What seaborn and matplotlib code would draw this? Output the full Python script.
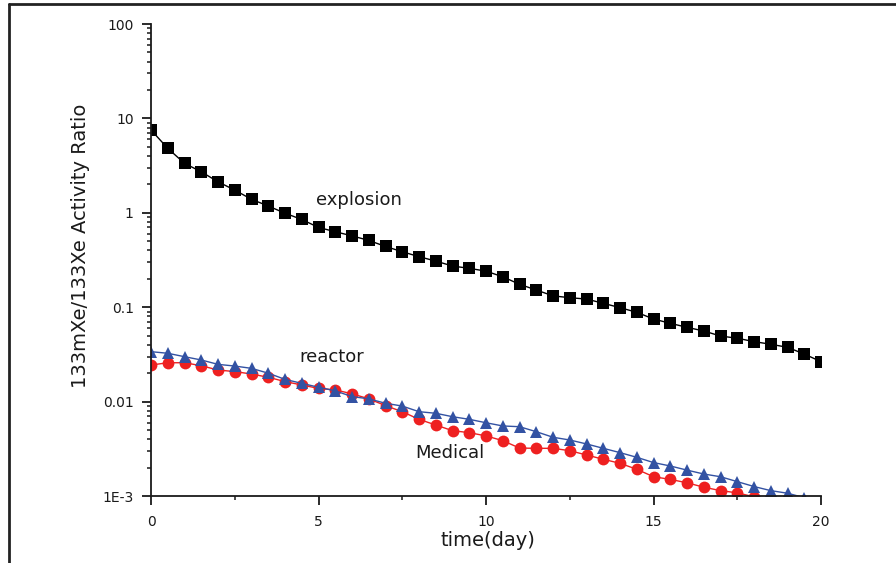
import matplotlib
matplotlib.use("Agg")
import matplotlib.pyplot as plt
from matplotlib.lines import Line2D
from matplotlib.ticker import FixedLocator, MultipleLocator, LogLocator, NullFormatter
import numpy as np
import pandas as pd
import seaborn as sns

# ---- data ----
time_explosion = [0, 0.5, 1, 1.5, 2, 2.5, 3, 3.5, 4, 4.5, 5, 5.5, 6, 6.5, 7, 7.5, 8, 8.5, 9, 9.5,
                  10, 10.5, 11, 11.5, 12, 12.5, 13, 13.5, 14, 14.5, 15, 15.5, 16, 16.5, 17, 17.5,
                  18, 18.5, 19, 19.5, 20]
explosion = [7.54, 4.82, 3.34, 2.72, 2.13, 1.74, 1.39, 1.18, 0.99, 0.85, 0.70, 0.63, 0.57, 0.51, 0.44,
             0.387, 0.343, 0.308, 0.273, 0.258, 0.241, 0.210, 0.175, 0.152, 0.132, 0.126, 0.122,
             0.110, 0.0989, 0.0883, 0.0750, 0.0675, 0.0612, 0.0560, 0.0495, 0.0469, 0.0432,
             0.0405, 0.0376, 0.0319, 0.0265]

time_reactor = [0, 0.5, 1, 1.5, 2, 2.5, 3, 3.5, 4, 4.5, 5, 5.5, 6, 6.5, 7, 7.5, 8, 8.5, 9, 9.5,
                10, 10.5, 11, 11.5, 12, 12.5, 13, 13.5, 14, 14.5, 15, 15.5, 16, 16.5, 17, 17.5,
                18, 18.5, 19, 19.5]
reactor = [0.0338, 0.0325, 0.0299, 0.0276, 0.0248, 0.0238, 0.0225, 0.0200, 0.0172, 0.0156, 0.0142,
           0.0130, 0.0113, 0.0107, 0.0096, 0.00897, 0.00782, 0.00752, 0.00692, 0.00649, 0.00597,
           0.00552, 0.00542, 0.00480, 0.00419, 0.00392, 0.00356, 0.00320, 0.00288, 0.00257,
           0.00226, 0.00208, 0.00188, 0.00171, 0.00160, 0.00142, 0.00126, 0.00114, 0.00107,
           0.00096]

time_medical = [0, 0.5, 1, 1.5, 2, 2.5, 3, 3.5, 4, 4.5, 5, 5.5, 6, 6.5, 7, 7.5, 8, 8.5, 9, 9.5,
                10, 10.5, 11, 11.5, 12, 12.5, 13, 13.5, 14, 14.5, 15, 15.5, 16, 16.5, 17, 17.5, 18]
medical = [0.0244, 0.0258, 0.0258, 0.0240, 0.0216, 0.0208, 0.0196, 0.0181, 0.0163, 0.0150, 0.0138,
           0.0133, 0.0121, 0.0107, 0.00906, 0.00782, 0.00649, 0.00565, 0.00492, 0.00469, 0.00433,
           0.00386, 0.00322, 0.00320, 0.00320, 0.00302, 0.00272, 0.00245, 0.00222, 0.00192,
           0.00160, 0.00150, 0.00138, 0.00124, 0.00114, 0.00108, 0.00098]

y_ticks = [1e-3, 1e-2, 1e-1, 1, 10, 100]
y_ticklabels = ["1E-3", "0.01", "0.1", "1", "10", "100"]
x_ticks = [0, 5, 10, 15, 20]
x_ticklabels = ["0", "5", "10", "15", "20"]

# ---- styling ----
sns.set_style("ticks")
plt.rcParams["font.family"] = ["DejaVu Sans"]
txt_color = "#1a1a1a"

W, H = 896, 563
fig = plt.figure(figsize=(W / 100, H / 100), dpi=100)
fig.patch.set_facecolor("white")
ax = fig.add_axes([151 / W, 1 - 496 / H, 670 / W, 472 / H])
ax.set_facecolor("white")

df_med = pd.DataFrame({"t": time_medical, "v": medical})
df_rea = pd.DataFrame({"t": time_reactor, "v": reactor})
df_exp = pd.DataFrame({"t": time_explosion, "v": explosion})

sns.lineplot(data=df_exp, x="t", y="v", ax=ax, color="black", lw=1.0, marker="s",
             markersize=8, markeredgewidth=0, estimator=None, errorbar=None)
sns.lineplot(data=df_med, x="t", y="v", ax=ax, color="#ee2020", lw=1.0, marker="o",
             markersize=8.5, markeredgewidth=0, estimator=None, errorbar=None)
sns.lineplot(data=df_rea, x="t", y="v", ax=ax, color="#3352a3", lw=1.0, marker="^",
             markersize=9, markeredgewidth=0, estimator=None, errorbar=None)

ax.set_yscale("log")
ax.set_xlim(0, 20)
ax.set_ylim(1e-3, 100)

ax.yaxis.set_major_locator(FixedLocator(y_ticks))
ax.set_yticklabels(y_ticklabels)
ax.yaxis.set_minor_locator(LogLocator(base=10, subs=np.arange(2, 10)))
ax.yaxis.set_minor_formatter(NullFormatter())
ax.xaxis.set_major_locator(FixedLocator(x_ticks))
ax.set_xticklabels(x_ticklabels)
ax.xaxis.set_minor_locator(MultipleLocator(2.5))

for s in ["top", "right"]:
    ax.spines[s].set_visible(False)
for s in ["left", "bottom"]:
    ax.spines[s].set_linewidth(1.3)
    ax.spines[s].set_color(txt_color)

ax.tick_params(axis="both", which="major", direction="out", length=6.5, width=1.3,
               color=txt_color, labelsize=10, labelcolor=txt_color)
ax.tick_params(axis="x", which="major", pad=7)
ax.tick_params(axis="y", which="major", pad=6)
ax.tick_params(axis="both", which="minor", direction="out", length=3.2, width=1.1, color=txt_color)

ax.set_xlabel("time(day)", fontsize=14, color=txt_color, va="center")
ax.xaxis.set_label_coords((488 - 151) / 670, (496 - 540) / 472)
ax.set_ylabel("133mXe/133Xe Activity Ratio", fontsize=14, color=txt_color, va="center")
ax.yaxis.set_label_coords((80 - 151) / 670, (496 - 246) / 472)

ax.text(6.2, 1.37, "explosion", fontsize=13, color=txt_color, ha="center", va="center")
ax.text(5.4, 0.0297, "reactor", fontsize=13, color=txt_color, ha="center", va="center")
ax.text(8.93, 0.00285, "Medical", fontsize=13, color=txt_color, ha="center", va="center")

# outer frame (left and top edges visible in the reference)
frame_col = "#222222"
fig.add_artist(Line2D([8.5 / W, 8.5 / W], [-0.05, 1 - 4 / H], transform=fig.transFigure,
                      color=frame_col, lw=2.0))
fig.add_artist(Line2D([8.5 / W, 1.05], [1 - 4 / H, 1 - 4 / H], transform=fig.transFigure,
                      color=frame_col, lw=2.0))

fig.savefig("out.png", dpi=100, facecolor="white")
